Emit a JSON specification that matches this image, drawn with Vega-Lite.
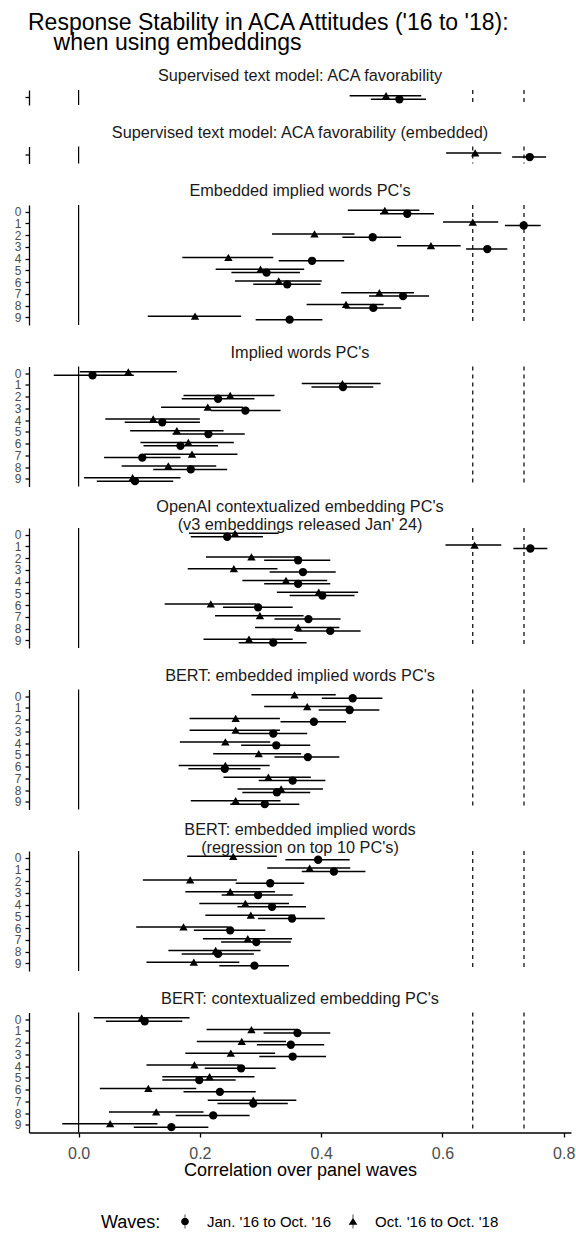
{
  "$schema": "https://vega.github.io/schema/vega-lite/v6.json",
  "padding": {"left": 5, "right": 2, "top": 12, "bottom": 5},
  "title": {
    "text": ["Response Stability in ACA Attitudes ('16 to '18):", "\u200b\u00a0\u00a0\u00a0\u00a0when using embeddings"],
    "anchor": "start", "fontSize": 23, "lineHeight": 19.5, "fontWeight": "normal", "color": "black",
    "baseline": "alphabetic", "dx": 23, "offset": -11.5
  },
  "datasets": {
    "refs": [
      {"x": 0, "kind": "zero"},
      {"x": 0.65, "kind": "ref"},
      {"x": 0.7345, "kind": "ref"}
    ],
    "est": [
      {"panel": "sup", "pc": "", "wave": "Jan. '16 to Oct. '16", "r": 0.529, "lo": 0.482, "hi": 0.573},
      {"panel": "sup", "pc": "", "wave": "Oct. '16 to Oct. '18", "r": 0.507, "lo": 0.447, "hi": 0.565},
      {"panel": "sup_emb", "pc": "", "wave": "Jan. '16 to Oct. '16", "r": 0.744, "lo": 0.715, "hi": 0.771},
      {"panel": "sup_emb", "pc": "", "wave": "Oct. '16 to Oct. '18", "r": 0.654, "lo": 0.606, "hi": 0.697},

      {"panel": "emb_pc", "pc": "0", "wave": "Oct. '16 to Oct. '18", "r": 0.505, "lo": 0.444, "hi": 0.562},
      {"panel": "emb_pc", "pc": "0", "wave": "Jan. '16 to Oct. '16", "r": 0.542, "lo": 0.497, "hi": 0.586},
      {"panel": "emb_pc", "pc": "1", "wave": "Oct. '16 to Oct. '18", "r": 0.650, "lo": 0.601, "hi": 0.692},
      {"panel": "emb_pc", "pc": "1", "wave": "Jan. '16 to Oct. '16", "r": 0.734, "lo": 0.703, "hi": 0.762},
      {"panel": "emb_pc", "pc": "2", "wave": "Oct. '16 to Oct. '18", "r": 0.389, "lo": 0.319, "hi": 0.455},
      {"panel": "emb_pc", "pc": "2", "wave": "Jan. '16 to Oct. '16", "r": 0.485, "lo": 0.435, "hi": 0.532},
      {"panel": "emb_pc", "pc": "3", "wave": "Oct. '16 to Oct. '18", "r": 0.581, "lo": 0.525, "hi": 0.630},
      {"panel": "emb_pc", "pc": "3", "wave": "Jan. '16 to Oct. '16", "r": 0.674, "lo": 0.639, "hi": 0.707},
      {"panel": "emb_pc", "pc": "4", "wave": "Oct. '16 to Oct. '18", "r": 0.247, "lo": 0.171, "hi": 0.321},
      {"panel": "emb_pc", "pc": "4", "wave": "Jan. '16 to Oct. '16", "r": 0.385, "lo": 0.330, "hi": 0.438},
      {"panel": "emb_pc", "pc": "5", "wave": "Oct. '16 to Oct. '18", "r": 0.300, "lo": 0.226, "hi": 0.372},
      {"panel": "emb_pc", "pc": "5", "wave": "Jan. '16 to Oct. '16", "r": 0.310, "lo": 0.252, "hi": 0.365},
      {"panel": "emb_pc", "pc": "6", "wave": "Oct. '16 to Oct. '18", "r": 0.330, "lo": 0.258, "hi": 0.401},
      {"panel": "emb_pc", "pc": "6", "wave": "Jan. '16 to Oct. '16", "r": 0.344, "lo": 0.288, "hi": 0.399},
      {"panel": "emb_pc", "pc": "7", "wave": "Oct. '16 to Oct. '18", "r": 0.496, "lo": 0.433, "hi": 0.553},
      {"panel": "emb_pc", "pc": "7", "wave": "Jan. '16 to Oct. '16", "r": 0.535, "lo": 0.479, "hi": 0.578},
      {"panel": "emb_pc", "pc": "8", "wave": "Oct. '16 to Oct. '18", "r": 0.441, "lo": 0.376, "hi": 0.503},
      {"panel": "emb_pc", "pc": "8", "wave": "Jan. '16 to Oct. '16", "r": 0.486, "lo": 0.439, "hi": 0.532},
      {"panel": "emb_pc", "pc": "9", "wave": "Oct. '16 to Oct. '18", "r": 0.192, "lo": 0.114, "hi": 0.268},
      {"panel": "emb_pc", "pc": "9", "wave": "Jan. '16 to Oct. '16", "r": 0.348, "lo": 0.292, "hi": 0.402},

      {"panel": "imp_pc", "pc": "0", "wave": "Oct. '16 to Oct. '18", "r": 0.082, "lo": 0.002, "hi": 0.162},
      {"panel": "imp_pc", "pc": "0", "wave": "Jan. '16 to Oct. '16", "r": 0.023, "lo": -0.041, "hi": 0.091},
      {"panel": "imp_pc", "pc": "1", "wave": "Oct. '16 to Oct. '18", "r": 0.435, "lo": 0.368, "hi": 0.498},
      {"panel": "imp_pc", "pc": "1", "wave": "Jan. '16 to Oct. '16", "r": 0.436, "lo": 0.384, "hi": 0.486},
      {"panel": "imp_pc", "pc": "2", "wave": "Oct. '16 to Oct. '18", "r": 0.250, "lo": 0.173, "hi": 0.323},
      {"panel": "imp_pc", "pc": "2", "wave": "Jan. '16 to Oct. '16", "r": 0.230, "lo": 0.170, "hi": 0.290},
      {"panel": "imp_pc", "pc": "3", "wave": "Oct. '16 to Oct. '18", "r": 0.213, "lo": 0.136, "hi": 0.271},
      {"panel": "imp_pc", "pc": "3", "wave": "Jan. '16 to Oct. '16", "r": 0.275, "lo": 0.218, "hi": 0.333},
      {"panel": "imp_pc", "pc": "4", "wave": "Oct. '16 to Oct. '18", "r": 0.123, "lo": 0.044, "hi": 0.200},
      {"panel": "imp_pc", "pc": "4", "wave": "Jan. '16 to Oct. '16", "r": 0.138, "lo": 0.076, "hi": 0.200},
      {"panel": "imp_pc", "pc": "5", "wave": "Oct. '16 to Oct. '18", "r": 0.162, "lo": 0.085, "hi": 0.239},
      {"panel": "imp_pc", "pc": "5", "wave": "Jan. '16 to Oct. '16", "r": 0.214, "lo": 0.155, "hi": 0.274},
      {"panel": "imp_pc", "pc": "6", "wave": "Oct. '16 to Oct. '18", "r": 0.181, "lo": 0.102, "hi": 0.256},
      {"panel": "imp_pc", "pc": "6", "wave": "Jan. '16 to Oct. '16", "r": 0.168, "lo": 0.107, "hi": 0.230},
      {"panel": "imp_pc", "pc": "7", "wave": "Oct. '16 to Oct. '18", "r": 0.187, "lo": 0.108, "hi": 0.262},
      {"panel": "imp_pc", "pc": "7", "wave": "Jan. '16 to Oct. '16", "r": 0.105, "lo": 0.042, "hi": 0.168},
      {"panel": "imp_pc", "pc": "8", "wave": "Oct. '16 to Oct. '18", "r": 0.148, "lo": 0.071, "hi": 0.227},
      {"panel": "imp_pc", "pc": "8", "wave": "Jan. '16 to Oct. '16", "r": 0.185, "lo": 0.123, "hi": 0.245},
      {"panel": "imp_pc", "pc": "9", "wave": "Oct. '16 to Oct. '18", "r": 0.089, "lo": 0.009, "hi": 0.168},
      {"panel": "imp_pc", "pc": "9", "wave": "Jan. '16 to Oct. '16", "r": 0.093, "lo": 0.030, "hi": 0.156},

      {"panel": "openai", "pc": "0", "wave": "Oct. '16 to Oct. '18", "r": 0.258, "lo": 0.182, "hi": 0.330},
      {"panel": "openai", "pc": "0", "wave": "Jan. '16 to Oct. '16", "r": 0.245, "lo": 0.185, "hi": 0.304},
      {"panel": "openai", "pc": "1", "wave": "Oct. '16 to Oct. '18", "r": 0.653, "lo": 0.605, "hi": 0.697},
      {"panel": "openai", "pc": "1", "wave": "Jan. '16 to Oct. '16", "r": 0.745, "lo": 0.717, "hi": 0.773},
      {"panel": "openai", "pc": "2", "wave": "Oct. '16 to Oct. '18", "r": 0.285, "lo": 0.210, "hi": 0.361},
      {"panel": "openai", "pc": "2", "wave": "Jan. '16 to Oct. '16", "r": 0.362, "lo": 0.306, "hi": 0.415},
      {"panel": "openai", "pc": "3", "wave": "Oct. '16 to Oct. '18", "r": 0.256, "lo": 0.180, "hi": 0.328},
      {"panel": "openai", "pc": "3", "wave": "Jan. '16 to Oct. '16", "r": 0.370, "lo": 0.315, "hi": 0.424},
      {"panel": "openai", "pc": "4", "wave": "Oct. '16 to Oct. '18", "r": 0.342, "lo": 0.270, "hi": 0.410},
      {"panel": "openai", "pc": "4", "wave": "Jan. '16 to Oct. '16", "r": 0.362, "lo": 0.306, "hi": 0.415},
      {"panel": "openai", "pc": "5", "wave": "Oct. '16 to Oct. '18", "r": 0.396, "lo": 0.327, "hi": 0.461},
      {"panel": "openai", "pc": "5", "wave": "Jan. '16 to Oct. '16", "r": 0.402, "lo": 0.348, "hi": 0.455},
      {"panel": "openai", "pc": "6", "wave": "Oct. '16 to Oct. '18", "r": 0.218, "lo": 0.142, "hi": 0.293},
      {"panel": "openai", "pc": "6", "wave": "Jan. '16 to Oct. '16", "r": 0.296, "lo": 0.238, "hi": 0.353},
      {"panel": "openai", "pc": "7", "wave": "Oct. '16 to Oct. '18", "r": 0.299, "lo": 0.225, "hi": 0.371},
      {"panel": "openai", "pc": "7", "wave": "Jan. '16 to Oct. '16", "r": 0.379, "lo": 0.323, "hi": 0.432},
      {"panel": "openai", "pc": "8", "wave": "Oct. '16 to Oct. '18", "r": 0.362, "lo": 0.291, "hi": 0.430},
      {"panel": "openai", "pc": "8", "wave": "Jan. '16 to Oct. '16", "r": 0.415, "lo": 0.359, "hi": 0.465},
      {"panel": "openai", "pc": "9", "wave": "Oct. '16 to Oct. '18", "r": 0.281, "lo": 0.206, "hi": 0.353},
      {"panel": "openai", "pc": "9", "wave": "Jan. '16 to Oct. '16", "r": 0.321, "lo": 0.264, "hi": 0.376},

      {"panel": "bert_emb", "pc": "0", "wave": "Oct. '16 to Oct. '18", "r": 0.356, "lo": 0.285, "hi": 0.424},
      {"panel": "bert_emb", "pc": "0", "wave": "Jan. '16 to Oct. '16", "r": 0.452, "lo": 0.401, "hi": 0.501},
      {"panel": "bert_emb", "pc": "1", "wave": "Oct. '16 to Oct. '18", "r": 0.377, "lo": 0.306, "hi": 0.448},
      {"panel": "bert_emb", "pc": "1", "wave": "Jan. '16 to Oct. '16", "r": 0.447, "lo": 0.396, "hi": 0.496},
      {"panel": "bert_emb", "pc": "2", "wave": "Oct. '16 to Oct. '18", "r": 0.259, "lo": 0.183, "hi": 0.332},
      {"panel": "bert_emb", "pc": "2", "wave": "Jan. '16 to Oct. '16", "r": 0.388, "lo": 0.333, "hi": 0.441},
      {"panel": "bert_emb", "pc": "3", "wave": "Oct. '16 to Oct. '18", "r": 0.259, "lo": 0.183, "hi": 0.332},
      {"panel": "bert_emb", "pc": "3", "wave": "Jan. '16 to Oct. '16", "r": 0.321, "lo": 0.264, "hi": 0.377},
      {"panel": "bert_emb", "pc": "4", "wave": "Oct. '16 to Oct. '18", "r": 0.242, "lo": 0.167, "hi": 0.316},
      {"panel": "bert_emb", "pc": "4", "wave": "Jan. '16 to Oct. '16", "r": 0.326, "lo": 0.268, "hi": 0.382},
      {"panel": "bert_emb", "pc": "5", "wave": "Oct. '16 to Oct. '18", "r": 0.297, "lo": 0.222, "hi": 0.367},
      {"panel": "bert_emb", "pc": "5", "wave": "Jan. '16 to Oct. '16", "r": 0.378, "lo": 0.323, "hi": 0.430},
      {"panel": "bert_emb", "pc": "6", "wave": "Oct. '16 to Oct. '18", "r": 0.242, "lo": 0.165, "hi": 0.315},
      {"panel": "bert_emb", "pc": "6", "wave": "Jan. '16 to Oct. '16", "r": 0.241, "lo": 0.181, "hi": 0.300},
      {"panel": "bert_emb", "pc": "7", "wave": "Oct. '16 to Oct. '18", "r": 0.313, "lo": 0.239, "hi": 0.383},
      {"panel": "bert_emb", "pc": "7", "wave": "Jan. '16 to Oct. '16", "r": 0.353, "lo": 0.297, "hi": 0.407},
      {"panel": "bert_emb", "pc": "8", "wave": "Oct. '16 to Oct. '18", "r": 0.334, "lo": 0.262, "hi": 0.403},
      {"panel": "bert_emb", "pc": "8", "wave": "Jan. '16 to Oct. '16", "r": 0.327, "lo": 0.270, "hi": 0.382},
      {"panel": "bert_emb", "pc": "9", "wave": "Oct. '16 to Oct. '18", "r": 0.259, "lo": 0.185, "hi": 0.333},
      {"panel": "bert_emb", "pc": "9", "wave": "Jan. '16 to Oct. '16", "r": 0.307, "lo": 0.250, "hi": 0.364},

      {"panel": "bert_reg", "pc": "0", "wave": "Oct. '16 to Oct. '18", "r": 0.255, "lo": 0.179, "hi": 0.327},
      {"panel": "bert_reg", "pc": "0", "wave": "Jan. '16 to Oct. '16", "r": 0.395, "lo": 0.341, "hi": 0.447},
      {"panel": "bert_reg", "pc": "1", "wave": "Oct. '16 to Oct. '18", "r": 0.381, "lo": 0.311, "hi": 0.448},
      {"panel": "bert_reg", "pc": "1", "wave": "Jan. '16 to Oct. '16", "r": 0.421, "lo": 0.368, "hi": 0.473},
      {"panel": "bert_reg", "pc": "2", "wave": "Oct. '16 to Oct. '18", "r": 0.184, "lo": 0.106, "hi": 0.261},
      {"panel": "bert_reg", "pc": "2", "wave": "Jan. '16 to Oct. '16", "r": 0.316, "lo": 0.259, "hi": 0.372},
      {"panel": "bert_reg", "pc": "3", "wave": "Oct. '16 to Oct. '18", "r": 0.250, "lo": 0.176, "hi": 0.324},
      {"panel": "bert_reg", "pc": "3", "wave": "Jan. '16 to Oct. '16", "r": 0.296, "lo": 0.236, "hi": 0.353},
      {"panel": "bert_reg", "pc": "4", "wave": "Oct. '16 to Oct. '18", "r": 0.275, "lo": 0.199, "hi": 0.347},
      {"panel": "bert_reg", "pc": "4", "wave": "Jan. '16 to Oct. '16", "r": 0.319, "lo": 0.262, "hi": 0.375},
      {"panel": "bert_reg", "pc": "5", "wave": "Oct. '16 to Oct. '18", "r": 0.284, "lo": 0.209, "hi": 0.357},
      {"panel": "bert_reg", "pc": "5", "wave": "Jan. '16 to Oct. '16", "r": 0.352, "lo": 0.296, "hi": 0.406},
      {"panel": "bert_reg", "pc": "6", "wave": "Oct. '16 to Oct. '18", "r": 0.173, "lo": 0.095, "hi": 0.247},
      {"panel": "bert_reg", "pc": "6", "wave": "Jan. '16 to Oct. '16", "r": 0.250, "lo": 0.190, "hi": 0.308},
      {"panel": "bert_reg", "pc": "7", "wave": "Oct. '16 to Oct. '18", "r": 0.279, "lo": 0.205, "hi": 0.352},
      {"panel": "bert_reg", "pc": "7", "wave": "Jan. '16 to Oct. '16", "r": 0.293, "lo": 0.235, "hi": 0.350},
      {"panel": "bert_reg", "pc": "8", "wave": "Oct. '16 to Oct. '18", "r": 0.226, "lo": 0.148, "hi": 0.300},
      {"panel": "bert_reg", "pc": "8", "wave": "Jan. '16 to Oct. '16", "r": 0.230, "lo": 0.170, "hi": 0.289},
      {"panel": "bert_reg", "pc": "9", "wave": "Oct. '16 to Oct. '18", "r": 0.190, "lo": 0.112, "hi": 0.265},
      {"panel": "bert_reg", "pc": "9", "wave": "Jan. '16 to Oct. '16", "r": 0.290, "lo": 0.232, "hi": 0.347},

      {"panel": "bert_ctx", "pc": "0", "wave": "Oct. '16 to Oct. '18", "r": 0.104, "lo": 0.025, "hi": 0.183},
      {"panel": "bert_ctx", "pc": "0", "wave": "Jan. '16 to Oct. '16", "r": 0.109, "lo": 0.045, "hi": 0.171},
      {"panel": "bert_ctx", "pc": "1", "wave": "Oct. '16 to Oct. '18", "r": 0.285, "lo": 0.211, "hi": 0.361},
      {"panel": "bert_ctx", "pc": "1", "wave": "Jan. '16 to Oct. '16", "r": 0.361, "lo": 0.305, "hi": 0.415},
      {"panel": "bert_ctx", "pc": "2", "wave": "Oct. '16 to Oct. '18", "r": 0.269, "lo": 0.195, "hi": 0.342},
      {"panel": "bert_ctx", "pc": "2", "wave": "Jan. '16 to Oct. '16", "r": 0.350, "lo": 0.294, "hi": 0.405},
      {"panel": "bert_ctx", "pc": "3", "wave": "Oct. '16 to Oct. '18", "r": 0.251, "lo": 0.176, "hi": 0.324},
      {"panel": "bert_ctx", "pc": "3", "wave": "Jan. '16 to Oct. '16", "r": 0.353, "lo": 0.298, "hi": 0.408},
      {"panel": "bert_ctx", "pc": "4", "wave": "Oct. '16 to Oct. '18", "r": 0.191, "lo": 0.112, "hi": 0.265},
      {"panel": "bert_ctx", "pc": "4", "wave": "Jan. '16 to Oct. '16", "r": 0.268, "lo": 0.208, "hi": 0.325},
      {"panel": "bert_ctx", "pc": "5", "wave": "Oct. '16 to Oct. '18", "r": 0.216, "lo": 0.138, "hi": 0.290},
      {"panel": "bert_ctx", "pc": "5", "wave": "Jan. '16 to Oct. '16", "r": 0.199, "lo": 0.138, "hi": 0.259},
      {"panel": "bert_ctx", "pc": "6", "wave": "Oct. '16 to Oct. '18", "r": 0.115, "lo": 0.035, "hi": 0.194},
      {"panel": "bert_ctx", "pc": "6", "wave": "Jan. '16 to Oct. '16", "r": 0.233, "lo": 0.173, "hi": 0.292},
      {"panel": "bert_ctx", "pc": "7", "wave": "Oct. '16 to Oct. '18", "r": 0.288, "lo": 0.213, "hi": 0.359},
      {"panel": "bert_ctx", "pc": "7", "wave": "Jan. '16 to Oct. '16", "r": 0.288, "lo": 0.229, "hi": 0.345},
      {"panel": "bert_ctx", "pc": "8", "wave": "Oct. '16 to Oct. '18", "r": 0.128, "lo": 0.050, "hi": 0.206},
      {"panel": "bert_ctx", "pc": "8", "wave": "Jan. '16 to Oct. '16", "r": 0.222, "lo": 0.160, "hi": 0.282},
      {"panel": "bert_ctx", "pc": "9", "wave": "Oct. '16 to Oct. '18", "r": 0.052, "lo": -0.027, "hi": 0.130},
      {"panel": "bert_ctx", "pc": "9", "wave": "Jan. '16 to Oct. '16", "r": 0.153, "lo": 0.091, "hi": 0.214}
    ]
  },
  "data": {"name": "est"},
  "spacing": 11.5,
  "resolve": {"scale": {"x": "independent", "y": "independent", "yOffset": "independent", "shape": "independent"}},
  "vconcat": [
    {
      "title": {"text": ["", "Supervised text model: ACA favorability", ""], "lineHeight": 7, "offset": -2},
      "width": 542, "height": 15,
      "layer": [
        {"data": {"name": "refs"}, "mark": {"type": "rule", "color": "black", "strokeWidth": 1.2},
         "encoding": {"x": {"field": "x", "type": "quantitative", "scale": {"domain": [-0.0818, 0.812], "nice": false, "zero": false}, "axis": null},
                      "strokeDash": {"field": "kind", "type": "nominal", "scale": {"domain": ["zero", "ref"], "range": [[1, 0], [4, 4]]}, "legend": null}}},
        {"transform": [{"filter": "datum.panel === 'sup'"}],
         "encoding": {
           "y": {"field": "pc", "type": "ordinal", "title": null, "scale": {"paddingInner": 0, "paddingOuter": 0.1}},
           "yOffset": {"field": "wave", "type": "nominal", "scale": {"domain": ["Oct. '16 to Oct. '18", "Jan. '16 to Oct. '16"], "paddingInner": 0, "paddingOuter": 0.72}}
         },
         "layer": [
           {"mark": {"type": "rule", "color": "black", "strokeWidth": 1.5},
            "encoding": {"x": {"field": "lo", "type": "quantitative", "axis": null}, "x2": {"field": "hi"}}},
           {"mark": {"type": "point", "filled": true, "color": "black", "opacity": 1, "size": 70},
            "encoding": {"x": {"field": "r", "type": "quantitative", "axis": null},
                         "shape": {"field": "wave", "type": "nominal", "legend": null,
                                   "scale": {"domain": ["Jan. '16 to Oct. '16", "Oct. '16 to Oct. '18"], "range": ["circle", "triangle-up"]}}}}
         ]}
      ]
    },
    {
      "title": {"text": ["", "Supervised text model: ACA favorability (embedded)", ""], "lineHeight": 7, "offset": -2},
      "width": 542, "height": 17,
      "layer": [
        {"data": {"name": "refs"}, "mark": {"type": "rule", "color": "black", "strokeWidth": 1.2},
         "encoding": {"x": {"field": "x", "type": "quantitative", "scale": {"domain": [-0.0818, 0.812], "nice": false, "zero": false}, "axis": null},
                      "strokeDash": {"field": "kind", "type": "nominal", "scale": {"domain": ["zero", "ref"], "range": [[1, 0], [4, 4]]}, "legend": null}}},
        {"transform": [{"filter": "datum.panel === 'sup_emb'"}],
         "encoding": {
           "y": {"field": "pc", "type": "ordinal", "title": null, "scale": {"paddingInner": 0, "paddingOuter": 0.1}},
           "yOffset": {"field": "wave", "type": "nominal", "scale": {"domain": ["Oct. '16 to Oct. '18", "Jan. '16 to Oct. '16"], "paddingInner": 0, "paddingOuter": 0.72}}
         },
         "layer": [
           {"mark": {"type": "rule", "color": "black", "strokeWidth": 1.5},
            "encoding": {"x": {"field": "lo", "type": "quantitative", "axis": null}, "x2": {"field": "hi"}}},
           {"mark": {"type": "point", "filled": true, "color": "black", "opacity": 1, "size": 70},
            "encoding": {"x": {"field": "r", "type": "quantitative", "axis": null},
                         "shape": {"field": "wave", "type": "nominal", "legend": null,
                                   "scale": {"domain": ["Jan. '16 to Oct. '16", "Oct. '16 to Oct. '18"], "range": ["circle", "triangle-up"]}}}}
         ]}
      ]
    },
    {
      "title": {"text": ["", "Embedded implied words PC's", ""], "lineHeight": 7, "offset": -2},
      "width": 542, "height": 120,
      "layer": [
        {"data": {"name": "refs"}, "mark": {"type": "rule", "color": "black", "strokeWidth": 1.2},
         "encoding": {"x": {"field": "x", "type": "quantitative", "scale": {"domain": [-0.0818, 0.812], "nice": false, "zero": false}, "axis": null},
                      "strokeDash": {"field": "kind", "type": "nominal", "scale": {"domain": ["zero", "ref"], "range": [[1, 0], [4, 4]]}, "legend": null}}},
        {"transform": [{"filter": "datum.panel === 'emb_pc'"}],
         "encoding": {
           "y": {"field": "pc", "type": "ordinal", "title": null, "scale": {"paddingInner": 0, "paddingOuter": 0.1}},
           "yOffset": {"field": "wave", "type": "nominal", "scale": {"domain": ["Oct. '16 to Oct. '18", "Jan. '16 to Oct. '16"], "paddingInner": 0, "paddingOuter": 0.72}}
         },
         "layer": [
           {"mark": {"type": "rule", "color": "black", "strokeWidth": 1.5},
            "encoding": {"x": {"field": "lo", "type": "quantitative", "axis": null}, "x2": {"field": "hi"}}},
           {"mark": {"type": "point", "filled": true, "color": "black", "opacity": 1, "size": 70},
            "encoding": {"x": {"field": "r", "type": "quantitative", "axis": null},
                         "shape": {"field": "wave", "type": "nominal", "legend": null,
                                   "scale": {"domain": ["Jan. '16 to Oct. '16", "Oct. '16 to Oct. '18"], "range": ["circle", "triangle-up"]}}}}
         ]}
      ]
    },
    {
      "title": {"text": ["", "Implied words PC's", ""], "lineHeight": 7, "offset": -2},
      "width": 542, "height": 120,
      "layer": [
        {"data": {"name": "refs"}, "mark": {"type": "rule", "color": "black", "strokeWidth": 1.2},
         "encoding": {"x": {"field": "x", "type": "quantitative", "scale": {"domain": [-0.0818, 0.812], "nice": false, "zero": false}, "axis": null},
                      "strokeDash": {"field": "kind", "type": "nominal", "scale": {"domain": ["zero", "ref"], "range": [[1, 0], [4, 4]]}, "legend": null}}},
        {"transform": [{"filter": "datum.panel === 'imp_pc'"}],
         "encoding": {
           "y": {"field": "pc", "type": "ordinal", "title": null, "scale": {"paddingInner": 0, "paddingOuter": 0.1}},
           "yOffset": {"field": "wave", "type": "nominal", "scale": {"domain": ["Oct. '16 to Oct. '18", "Jan. '16 to Oct. '16"], "paddingInner": 0, "paddingOuter": 0.72}}
         },
         "layer": [
           {"mark": {"type": "rule", "color": "black", "strokeWidth": 1.5},
            "encoding": {"x": {"field": "lo", "type": "quantitative", "axis": null}, "x2": {"field": "hi"}}},
           {"mark": {"type": "point", "filled": true, "color": "black", "opacity": 1, "size": 70},
            "encoding": {"x": {"field": "r", "type": "quantitative", "axis": null},
                         "shape": {"field": "wave", "type": "nominal", "legend": null,
                                   "scale": {"domain": ["Jan. '16 to Oct. '16", "Oct. '16 to Oct. '18"], "range": ["circle", "triangle-up"]}}}}
         ]}
      ]
    },
    {
      "title": {"text": ["OpenAI contextualized embedding PC's", "(v3 embeddings released Jan' 24)"], "lineHeight": 18},
      "width": 542, "height": 120,
      "layer": [
        {"data": {"name": "refs"}, "mark": {"type": "rule", "color": "black", "strokeWidth": 1.2},
         "encoding": {"x": {"field": "x", "type": "quantitative", "scale": {"domain": [-0.0818, 0.812], "nice": false, "zero": false}, "axis": null},
                      "strokeDash": {"field": "kind", "type": "nominal", "scale": {"domain": ["zero", "ref"], "range": [[1, 0], [4, 4]]}, "legend": null}}},
        {"transform": [{"filter": "datum.panel === 'openai'"}],
         "encoding": {
           "y": {"field": "pc", "type": "ordinal", "title": null, "scale": {"paddingInner": 0, "paddingOuter": 0.1}},
           "yOffset": {"field": "wave", "type": "nominal", "scale": {"domain": ["Oct. '16 to Oct. '18", "Jan. '16 to Oct. '16"], "paddingInner": 0, "paddingOuter": 0.72}}
         },
         "layer": [
           {"mark": {"type": "rule", "color": "black", "strokeWidth": 1.5},
            "encoding": {"x": {"field": "lo", "type": "quantitative", "axis": null}, "x2": {"field": "hi"}}},
           {"mark": {"type": "point", "filled": true, "color": "black", "opacity": 1, "size": 70},
            "encoding": {"x": {"field": "r", "type": "quantitative", "axis": null},
                         "shape": {"field": "wave", "type": "nominal", "legend": null,
                                   "scale": {"domain": ["Jan. '16 to Oct. '16", "Oct. '16 to Oct. '18"], "range": ["circle", "triangle-up"]}}}}
         ]}
      ]
    },
    {
      "title": {"text": ["", "BERT: embedded implied words PC's", ""], "lineHeight": 7, "offset": -2},
      "width": 542, "height": 120,
      "layer": [
        {"data": {"name": "refs"}, "mark": {"type": "rule", "color": "black", "strokeWidth": 1.2},
         "encoding": {"x": {"field": "x", "type": "quantitative", "scale": {"domain": [-0.0818, 0.812], "nice": false, "zero": false}, "axis": null},
                      "strokeDash": {"field": "kind", "type": "nominal", "scale": {"domain": ["zero", "ref"], "range": [[1, 0], [4, 4]]}, "legend": null}}},
        {"transform": [{"filter": "datum.panel === 'bert_emb'"}],
         "encoding": {
           "y": {"field": "pc", "type": "ordinal", "title": null, "scale": {"paddingInner": 0, "paddingOuter": 0.1}},
           "yOffset": {"field": "wave", "type": "nominal", "scale": {"domain": ["Oct. '16 to Oct. '18", "Jan. '16 to Oct. '16"], "paddingInner": 0, "paddingOuter": 0.72}}
         },
         "layer": [
           {"mark": {"type": "rule", "color": "black", "strokeWidth": 1.5},
            "encoding": {"x": {"field": "lo", "type": "quantitative", "axis": null}, "x2": {"field": "hi"}}},
           {"mark": {"type": "point", "filled": true, "color": "black", "opacity": 1, "size": 70},
            "encoding": {"x": {"field": "r", "type": "quantitative", "axis": null},
                         "shape": {"field": "wave", "type": "nominal", "legend": null,
                                   "scale": {"domain": ["Jan. '16 to Oct. '16", "Oct. '16 to Oct. '18"], "range": ["circle", "triangle-up"]}}}}
         ]}
      ]
    },
    {
      "title": {"text": ["BERT: embedded implied words", "(regression on top 10 PC's)"], "lineHeight": 18},
      "width": 542, "height": 120,
      "layer": [
        {"data": {"name": "refs"}, "mark": {"type": "rule", "color": "black", "strokeWidth": 1.2},
         "encoding": {"x": {"field": "x", "type": "quantitative", "scale": {"domain": [-0.0818, 0.812], "nice": false, "zero": false}, "axis": null},
                      "strokeDash": {"field": "kind", "type": "nominal", "scale": {"domain": ["zero", "ref"], "range": [[1, 0], [4, 4]]}, "legend": null}}},
        {"transform": [{"filter": "datum.panel === 'bert_reg'"}],
         "encoding": {
           "y": {"field": "pc", "type": "ordinal", "title": null, "scale": {"paddingInner": 0, "paddingOuter": 0.1}},
           "yOffset": {"field": "wave", "type": "nominal", "scale": {"domain": ["Oct. '16 to Oct. '18", "Jan. '16 to Oct. '16"], "paddingInner": 0, "paddingOuter": 0.72}}
         },
         "layer": [
           {"mark": {"type": "rule", "color": "black", "strokeWidth": 1.5},
            "encoding": {"x": {"field": "lo", "type": "quantitative", "axis": null}, "x2": {"field": "hi"}}},
           {"mark": {"type": "point", "filled": true, "color": "black", "opacity": 1, "size": 70},
            "encoding": {"x": {"field": "r", "type": "quantitative", "axis": null},
                         "shape": {"field": "wave", "type": "nominal", "legend": null,
                                   "scale": {"domain": ["Jan. '16 to Oct. '16", "Oct. '16 to Oct. '18"], "range": ["circle", "triangle-up"]}}}}
         ]}
      ]
    },
    {
      "title": {"text": ["", "BERT: contextualized embedding PC's", ""], "lineHeight": 7, "offset": -2},
      "width": 542, "height": 120,
      "layer": [
        {"data": {"name": "refs"}, "mark": {"type": "rule", "color": "black", "strokeWidth": 1.2},
         "encoding": {"x": {"field": "x", "type": "quantitative", "scale": {"domain": [-0.0818, 0.812], "nice": false, "zero": false},
                            "axis": {"values": [0, 0.2, 0.4, 0.6, 0.8], "format": ".1f", "title": "Correlation over panel waves"}},
                      "strokeDash": {"field": "kind", "type": "nominal", "scale": {"domain": ["zero", "ref"], "range": [[1, 0], [4, 4]]}, "legend": null}}},
        {"transform": [{"filter": "datum.panel === 'bert_ctx'"}],
         "encoding": {
           "y": {"field": "pc", "type": "ordinal", "title": null, "scale": {"paddingInner": 0, "paddingOuter": 0.1}},
           "yOffset": {"field": "wave", "type": "nominal", "scale": {"domain": ["Oct. '16 to Oct. '18", "Jan. '16 to Oct. '16"], "paddingInner": 0, "paddingOuter": 0.72}}
         },
         "resolve": {"scale": {"shape": "independent"}},
         "layer": [
           {"mark": {"type": "rule", "color": "black", "strokeWidth": 1.5},
            "encoding": {"x": {"field": "lo", "type": "quantitative", "axis": {"values": [0, 0.2, 0.4, 0.6, 0.8], "format": ".1f", "title": "Correlation over panel waves"}}, "x2": {"field": "hi"}}},
           {"mark": {"type": "point", "filled": true, "color": "black", "opacity": 1, "size": 70},
            "encoding": {"x": {"field": "r", "type": "quantitative", "axis": {"values": [0, 0.2, 0.4, 0.6, 0.8], "format": ".1f", "title": "Correlation over panel waves"}},
                         "shape": {"field": "wave", "type": "nominal", "legend": null,
                                   "scale": {"domain": ["Jan. '16 to Oct. '16", "Oct. '16 to Oct. '18"], "range": ["circle", "triangle-up"]}}}},
           {"mark": {"type": "point", "filled": true, "color": "black", "opacity": 0, "size": 196, "clip": true},
            "encoding": {"x": {"field": "r", "type": "quantitative", "axis": {"values": [0, 0.2, 0.4, 0.6, 0.8], "format": ".1f", "title": "Correlation over panel waves"}},
                         "shape": {"field": "wave", "type": "nominal", "title": "Waves:",
                                   "scale": {"domain": ["Jan. '16 to Oct. '16", "Oct. '16 to Oct. '18"],
                                             "range": ["M-0.05,-1L0.05,-1L0.05,1L-0.05,1Z M-0.55,0A0.55,0.55,0,1,1,0.55,0A0.55,0.55,0,1,1,-0.55,0Z",
                                                       "M-0.05,-1L0.05,-1L0.05,1L-0.05,1Z M0,-0.55L0.62,0.47L-0.62,0.47Z"]}}}}
         ]}
      ]
    }
  ],
  "config": {
    "font": "Liberation Sans",
    "view": {"stroke": null},
    "title": {"fontSize": 16.3, "fontWeight": "normal", "color": "#1a1a1a", "anchor": "middle", "offset": -6, "baseline": "alphabetic"},
    "axis": {"grid": false, "domainColor": "black", "domainWidth": 1.3, "tickColor": "black", "tickWidth": 1.3, "labelColor": "#4d4d4d"},
    "axisY": {"labelFontSize": 12, "tickSize": 4, "labelPadding": 4, "minExtent": 24, "maxExtent": 24},
    "axisX": {"labelFontSize": 16, "tickSize": 4.5, "labelPadding": 8, "titleFontSize": 18, "titleFontWeight": "normal", "titleColor": "black", "titlePadding": 0},
    "legend": {
      "orient": "bottom", "direction": "horizontal", "titleOrient": "left",
      "titleFontSize": 18, "titleFontWeight": "normal", "titleColor": "black", "titlePadding": 16,
      "labelFontSize": 15, "labelColor": "black", "labelOffset": 14, "columnPadding": 13,
      "symbolSize": 196, "symbolOpacity": 1, "symbolFillColor": "black",
      "offset": 34,
      "layout": {"bottom": {"anchor": "middle"}}
    }
  }
}
